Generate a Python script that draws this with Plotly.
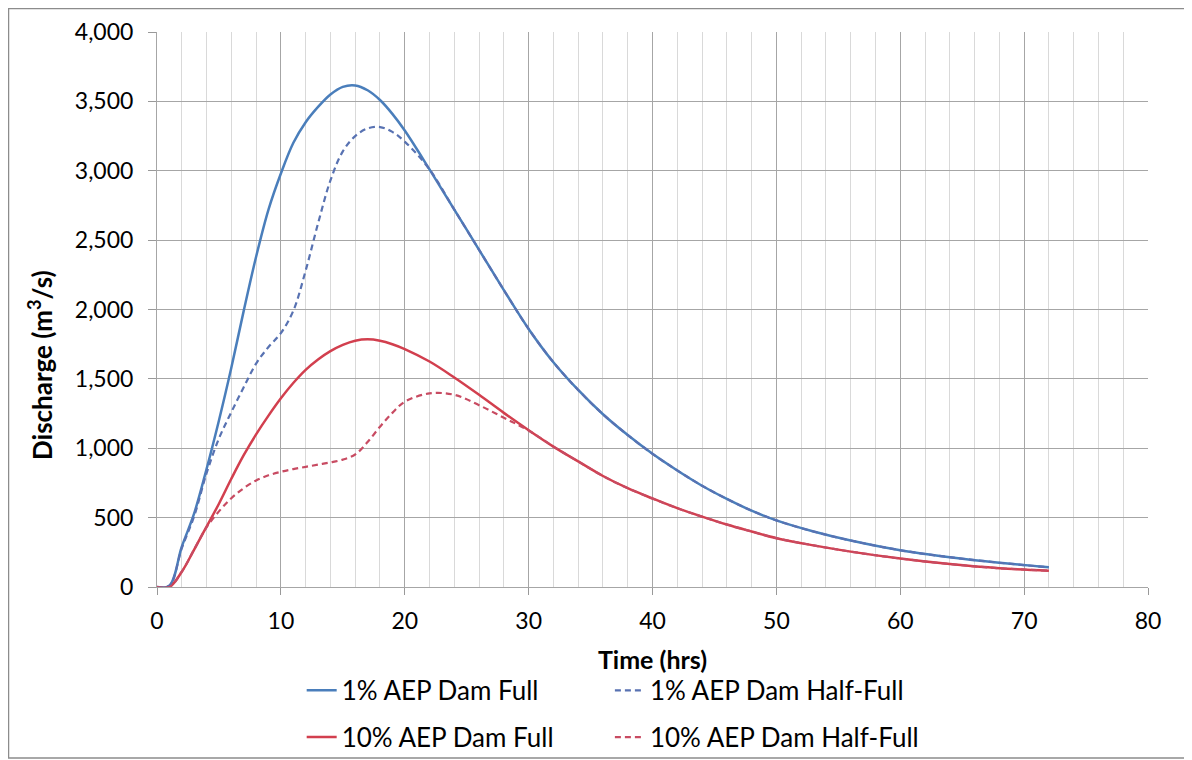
import plotly.graph_objects as go

# Time (hrs)
time_hrs = [0, 1, 2, 3, 4, 5, 6, 7, 8, 9, 10, 11, 12, 13, 14, 15, 16, 17, 18, 19, 20,
            22, 24, 26, 28, 30, 32, 34, 36, 38, 40, 42, 44, 46, 48, 50, 53, 56, 60, 64, 68, 72]

# Discharge (m3/s)
aep1_full = [0, 10, 290, 530, 850, 1200, 1580, 1990, 2380, 2720, 2980, 3200, 3350, 3460, 3550, 3605,
             3615, 3580, 3510, 3410, 3290, 3010, 2720, 2430, 2140, 1860, 1620, 1420, 1245, 1095, 960,
             840, 730, 635, 550, 480, 400, 335, 265, 215, 175, 142]
aep1_half = [0, 10, 280, 510, 820, 1070, 1260, 1440, 1610, 1730, 1830, 1990, 2280, 2620, 2930, 3140,
             3250, 3305, 3315, 3280, 3210, 3010, 2720, 2430, 2140, 1860, 1620, 1420, 1245, 1095, 960,
             840, 730, 635, 550, 480, 400, 335, 265, 215, 175, 142]
aep10_full = [0, 0, 110, 270, 435, 600, 780, 950, 1100, 1235, 1360, 1470, 1565, 1640, 1700, 1745,
              1775, 1785, 1775, 1750, 1715, 1625, 1510, 1385, 1255, 1130, 1012, 905, 800, 712, 638,
              568, 507, 450, 400, 352, 300, 255, 205, 165, 135, 118]
aep10_half = [0, 0, 110, 270, 430, 545, 640, 712, 768, 805, 830, 850, 866, 882, 898, 918,
              955, 1045, 1155, 1255, 1335, 1395, 1385, 1310, 1220, 1128, 1012, 905, 800, 712, 638,
              568, 507, 450, 400, 352, 300, 255, 205, 165, 135, 118]

series_names = ["1% AEP Dam Full", "1% AEP Dam Half-Full", "10% AEP Dam Full", "10% AEP Dam Half-Full"]
y_ticks = [0, 500, 1000, 1500, 2000, 2500, 3000, 3500, 4000]
x_ticks = [0, 10, 20, 30, 40, 50, 60, 70, 80]

FONT = "Lato"
BLUE = "#4A7EBB"
BLUE_D = "#5872B2"
RED = "#D23F4E"
RED_D = "#C84B62"

# the page body adds an 8px offset; the figure is sized to fit the remaining window
W, H = 1184, 752
L, T, PW, PH = 149, 24, 991, 555

fig = go.Figure()
fig.add_trace(go.Scatter(x=time_hrs, y=aep1_full, name=series_names[0], mode="lines",
                         line=dict(color=BLUE, width=2.5, shape="spline", smoothing=1),
                         legend="legend", legendgroup="a"))
fig.add_trace(go.Scatter(x=time_hrs, y=aep10_full, name=series_names[2], mode="lines",
                         line=dict(color=RED, width=2.5, shape="spline", smoothing=1),
                         legend="legend", legendgroup="b"))
fig.add_trace(go.Scatter(x=time_hrs, y=aep1_half, name=series_names[1], mode="lines",
                         line=dict(color=BLUE_D, width=2.2, dash="6px,4px", shape="spline", smoothing=1),
                         legend="legend2", legendgroup="c"))
fig.add_trace(go.Scatter(x=time_hrs, y=aep10_half, name=series_names[3], mode="lines",
                         line=dict(color=RED_D, width=2.2, dash="6px,4px", shape="spline", smoothing=1),
                         legend="legend2", legendgroup="d"))

legend_common = dict(orientation="v", yanchor="top", xanchor="left", bgcolor="rgba(0,0,0,0)",
                     font=dict(family=FONT, size=26, color="#000000"), tracegroupgap=10,
                     traceorder="grouped")

fig.update_layout(
    width=W, height=H,
    margin=dict(l=L, r=W - L - PW, t=T, b=H - T - PH, autoexpand=False),
    paper_bgcolor="white", plot_bgcolor="white",
    font=dict(family=FONT, size=23, color="#000000"),
    showlegend=True,
    legend=dict(x=0.146, y=-0.144, **legend_common),
    legend2=dict(x=0.457, y=-0.144, **legend_common),
    xaxis=dict(range=[0, 80], tickvals=x_ticks, ticks="outside", ticklen=7, tickcolor="#999999",
               showgrid=True, gridcolor="#A6A6A6", gridwidth=1,
               minor=dict(dtick=2, showgrid=True, gridcolor="#D9D9D9", gridwidth=1),
               showline=True, linecolor="#A6A6A6", linewidth=1, zeroline=False,
               automargin=False, ticklabelstandoff=6,
               tickfont=dict(family=FONT, size=23),
               title=dict(text="<b>Time (hrs)</b>", font=dict(family=FONT, size=25), standoff=18)),
    yaxis=dict(range=[0, 4000], tickvals=y_ticks, tickformat=",", ticks="outside", ticklen=8,
               tickcolor="#999999", showgrid=True, gridcolor="#A6A6A6", gridwidth=1,
               showline=True, linecolor="#A6A6A6", linewidth=1, zeroline=False,
               automargin=False, ticklabelstandoff=10,
               tickfont=dict(family=FONT, size=23)),
)

# y-axis title, placed as in the original (below the axis centre)
fig.add_annotation(text="<b>Discharge (m<sup>3</sup>/s)</b>", textangle=-90,
                   xref="paper", yref="paper", x=(32 - L) / PW, y=(T + PH - 357) / PH,
                   xanchor="center", yanchor="middle", showarrow=False,
                   font=dict(family=FONT, size=26, color="#000000"))

# outer chart frame
plot_bottom = T + PH
fig.add_shape(type="rect", xref="paper", yref="paper",
              x0=(0.5 - L) / PW, x1=(1177 - L) / PW, y0=(plot_bottom - 750) / PH, y1=(plot_bottom - 0.5) / PH,
              line=dict(color="#8C8C8C", width=1.5), fillcolor="rgba(0,0,0,0)", layer="below")

fig.write_html("out.html")
